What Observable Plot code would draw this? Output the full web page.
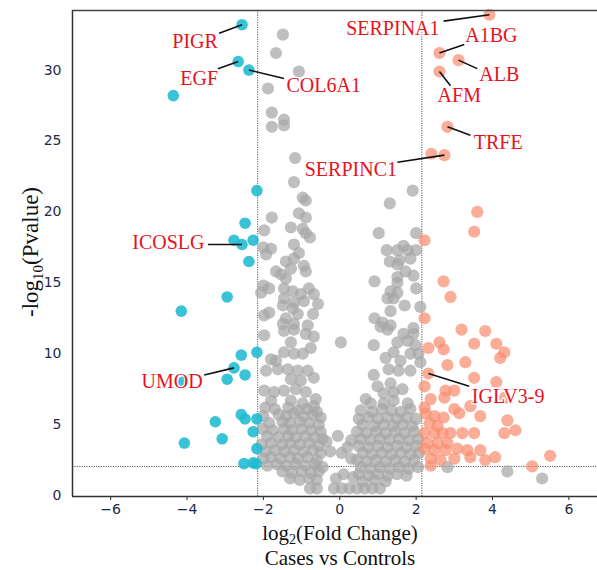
<!DOCTYPE html>
<html><head><meta charset="utf-8">
<script src="https://cdn.jsdelivr.net/npm/d3@7"></script>
<script src="https://cdn.jsdelivr.net/npm/@observablehq/plot@0.6"></script>
<style>body{margin:0;background:#fff}#chart{width:597px;height:570px}</style>
</head><body><div id="chart"></div>
<script>
// not significant proteins [log2FC, -log10 p]
const grayPoints = [
[-1.49,32.5],[-1.67,31.2],[-1.07,29.9],[-1.88,28.7],[-1.78,27.0],[-1.46,26.5],[-1.78,26.0],[-1.46,26.1],[-1.17,23.8],[-1.2,22.1],
[-0.97,21.0],[-0.89,20.8],[-1.78,19.6],[-1.07,19.9],[-0.89,19.6],[-1.98,18.7],[-1.28,18.9],[-0.97,18.8],[-0.89,18.5],[-0.78,18.2],
[-1.2,17.7],[-2.0,17.5],[-1.8,17.4],[-1.93,17.0],[-1.07,17.1],[-1.41,16.5],[-1.2,16.7],[-0.94,16.2],[-0.89,15.8],[-1.28,16.0],
[-1.67,15.8],[-1.54,15.6],[-1.41,15.3],[-2.0,14.8],[-1.85,14.6],[-1.46,14.6],[-1.23,14.4],[-1.02,14.2],[-0.81,14.6],[-2.06,14.3],
[-1.46,13.9],[-1.2,13.6],[-0.94,13.7],[-0.68,14.2],[-0.57,13.5],[-1.49,13.4],[-1.23,13.2],[-1.98,12.7],[-1.85,12.9],[-1.41,12.5],
[-1.1,12.8],[-0.7,12.8],[-1.49,12.1],[-1.2,12.1],[-0.84,12.0],
[-1.98,11.3],[-1.46,11.6],[-1.2,11.7],[-0.89,11.4],[-0.68,11.2],[-1.28,10.8],[-0.76,10.4],[0.03,10.8],[-1.46,10.1],[-1.2,10.0],
[-0.97,10.0],[-1.67,9.5],[-1.8,9.6],[-1.93,8.8],[-1.62,8.9],[-1.36,8.9],[-1.1,8.8],[-0.84,8.8],[-0.68,8.3],[-1.28,8.2],[-1.02,8.1],
[-1.98,7.4],[-1.72,7.3],[-1.46,7.4],[-1.15,7.5],[-0.89,7.3],[-0.63,6.8],[-1.28,6.7],[-0.97,6.5],[-0.68,6.3],[-1.8,6.7],
[1.91,21.5],[1.31,20.6],[1.02,18.5],[2.0,18.5],[1.23,17.3],[1.51,17.3],[1.67,17.6],[1.78,17.3],[2.0,17.3],[1.31,16.5],
[1.57,16.6],[1.85,16.7],[1.51,16.3],[1.72,15.8],[1.93,15.5],[1.51,15.4],[1.51,15.0],[0.91,15.1],[2.0,14.6],[1.33,14.4],
[1.51,14.3],[1.25,13.9],[1.41,13.9],[1.70,13.4],[2.11,13.3],[1.33,13.0],[0.91,12.5],[1.12,12.2],[1.33,12.0],[1.93,11.8],
[0.89,10.6],[1.07,11.9],[1.25,11.7],[1.67,11.4],[1.93,11.4],[1.51,10.8],[1.78,10.9],[1.98,10.6],[2.06,10.0],[1.41,10.1],
[1.2,9.7],[1.59,9.5],[1.85,10.0],[2.11,9.4],[1.28,8.9],[1.54,8.8],[0.89,8.5],[1.85,8.8],[0.99,7.7],[1.33,7.9],
[1.64,7.5],[1.15,7.2],[1.41,7.3],[0.68,6.8],[0.81,6.5],[1.15,6.5],[1.41,6.7],[1.78,6.5],
[-1.95,6.2],[-1.7,6.1],[-1.35,6.2],[-1.1,6.0],[-0.85,6.1],[-0.6,5.9],
[-2.0,5.6],[-1.6,5.7],[-1.4,5.6],[-1.2,5.8],[-0.95,5.6],[-0.7,5.7],[-0.5,5.5],
[-1.85,5.1],[-1.5,5.2],[-1.3,5.1],[-1.05,5.2],[-0.8,5.1],[-0.55,5.0],
[-2.02,4.7],[-1.75,4.6],[-1.45,4.7],[-1.25,4.6],[-1.0,4.7],[-0.75,4.6],[-0.5,4.5],
[-1.9,4.2],[-1.6,4.1],[-1.35,4.2],[-1.15,4.1],[-0.9,4.2],[-0.65,4.1],[-0.45,4.0],
[-2.05,3.6],[-1.8,3.7],[-1.5,3.6],[-1.3,3.7],[-1.05,3.6],[-0.8,3.7],[-0.55,3.5],
[-1.95,3.1],[-1.7,3.2],[-1.45,3.1],[-1.2,3.2],[-0.95,3.1],[-0.7,3.2],[-0.5,3.0],
[-2.0,2.6],[-1.8,2.7],[-1.55,2.6],[-1.3,2.7],[-1.1,2.6],[-0.85,2.7],[-0.6,2.5],
[-1.9,2.1],[-1.65,2.2],[-1.4,2.1],[-1.15,2.2],[-0.9,2.1],[-0.65,2.2],[-0.45,2.0],
[-1.5,1.7],[-1.25,1.6],[-1.0,1.7],[-0.75,1.6],[-0.55,1.7],
[-1.3,1.2],[-1.05,1.1],[-0.8,1.2],[-0.6,1.1],[-0.78,0.5],[-0.6,0.5],
[-0.35,3.8],[-0.05,4.2],[0.3,3.9],[-0.25,3.1],[0.05,3.0],[0.3,2.6],[0.1,1.5],[0.35,1.3],[-0.1,1.2],[0.2,3.4],
[0.55,6.0],[0.85,5.9],[1.1,6.1],[1.35,6.0],[1.6,5.9],[1.85,6.1],
[0.5,5.4],[0.75,5.5],[1.0,5.4],[1.25,5.5],[1.5,5.4],[1.75,5.5],[2.0,5.4],
[0.6,5.0],[0.9,4.9],[1.15,5.0],[1.4,4.9],[1.65,5.0],[1.9,4.9],
[0.45,4.5],[0.7,4.4],[0.95,4.5],[1.2,4.4],[1.45,4.5],[1.7,4.4],[1.95,4.5],
[0.55,4.0],[0.8,3.9],[1.05,4.0],[1.3,3.9],[1.55,4.0],[1.8,3.9],[2.05,4.0],
[0.5,3.5],[0.75,3.4],[1.0,3.5],[1.25,3.4],[1.5,3.5],[1.75,3.4],[2.0,3.5],
[0.6,3.0],[0.85,2.9],[1.1,3.0],[1.35,2.9],[1.6,3.0],[1.85,2.9],[2.08,3.0],
[0.45,2.5],[0.7,2.4],[0.95,2.5],[1.2,2.4],[1.45,2.5],[1.7,2.4],[1.95,2.5],
[0.55,2.0],[0.8,1.9],[1.05,2.0],[1.3,1.9],[1.55,2.0],[1.8,1.9],[2.05,2.0],
[0.5,1.5],[0.75,1.4],[1.0,1.5],[1.25,1.4],[1.5,1.5],[1.75,1.4],
[0.6,1.0],[0.9,1.1],[1.2,1.0],
[-0.15,0.5],[0.05,0.5],[0.25,0.5],[0.45,0.5],[0.65,0.5],[0.85,0.5],[1.05,0.5],
[2.82,2.0],[4.39,1.7],[5.3,1.2]
];
// down-regulated
const downPoints = [
[-2.56,33.2],[-2.66,30.6],[-2.38,30.0],[-4.36,28.2],[-2.17,21.5],[-2.48,19.2],[-2.77,18.0],[-2.56,17.7],[-2.27,18.0],[-2.38,16.5],
[-2.95,14.0],[-4.15,13.0],[-2.58,9.9],[-2.17,10.1],[-2.77,9.0],[-2.48,8.5],[-2.95,8.2],[-4.1,8.0],[-2.58,5.7],[-2.48,5.4],
[-2.17,5.4],[-3.26,5.2],[-2.27,4.5],[-3.08,4.0],[-4.07,3.7],[-2.17,3.3],[-2.51,2.25],[-2.27,2.3],[-2.19,2.25]
];
// up-regulated
const upPoints = [
[3.92,33.9],[2.61,31.2],[3.11,30.7],[2.61,29.9],[2.82,26.0],[2.40,24.1],[2.74,24.0],[3.60,20.0],[3.52,18.6],[2.22,18.0],
[2.72,15.1],[2.90,14.0],[2.22,12.5],[3.19,11.7],[3.81,11.6],[2.61,10.8],[3.52,10.7],[4.10,10.7],[2.32,10.4],[2.72,10.3],
[4.31,10.1],[4.20,9.7],[3.29,9.4],[2.82,9.2],[2.32,8.6],[3.52,8.3],[4.10,8.0],[2.22,7.7],[2.77,7.4],[3.0,7.4],
[2.38,6.8],[2.74,6.9],[4.33,6.9],[2.22,6.2],[3.42,6.3],[3.0,6.1],[2.25,5.8],[2.48,5.6],[2.72,5.5],[3.13,5.8],
[3.68,5.6],[4.39,5.3],[2.35,5.1],[2.56,4.9],[4.6,4.6],[2.22,4.4],[2.48,4.4],[2.69,4.4],[2.90,4.4],[3.21,4.4],
[3.52,4.4],[4.31,4.4],[2.30,3.7],[2.56,3.7],[2.82,3.7],[2.22,3.3],[2.48,3.2],[2.77,3.2],[3.08,3.3],[3.34,3.2],
[3.68,3.2],[4.07,2.7],[5.51,2.8],[2.38,2.6],[2.64,2.5],[3.0,2.6],[3.42,2.7],[3.81,2.5],[2.38,2.1],[5.04,2.05]
];
// labelled genes: name, point, label centre, leader start
const geneNames = ["PIGR","EGF","COL6A1","SERPINA1","A1BG","ALB","AFM","TRFE","SERPINC1","ICOSLG","UMOD","IGLV3-9"];
const genePoints = [[-2.56,33.2],[-2.66,30.6],[-2.38,30.0],[3.92,33.9],[2.61,31.2],[3.11,30.7],[2.61,29.9],[2.82,26.0],[2.74,24.0],[-2.56,17.7],[-2.77,9.0],[2.32,8.6]];
const geneLabelPos = [[-3.79,32.0],[-3.68,29.4],[-0.42,28.9],[1.39,32.9],[3.97,32.4],[4.18,29.7],[3.13,28.2],[4.15,24.9],[0.29,23.0],[-4.49,17.8],[-4.39,8.0],[4.41,7.0]];
const geneLeaderPos = [[-3.16,32.6],[-3.19,30.1],[-1.46,29.4],[2.72,33.45],[3.26,31.8],[3.60,30.1],[2.90,28.9],[3.42,25.4],[1.51,23.5],[-3.45,17.7],[-3.55,8.5],[3.39,7.7]];
const xTicks = [-6,-4,-2,0,2,4,6];
const yTicks = [0,5,10,15,20,25,30];
const fcCut = [-2.15, 2.15];
const pCut = [2.05];
const xDomain = [-7, 6.75];
const yDomain = [-0.07, 34.2];

const genes = geneNames.map((g,i)=>({g, px:genePoints[i][0], py:genePoints[i][1], lx:geneLabelPos[i][0], ly:geneLabelPos[i][1], ax:geneLeaderPos[i][0], ay:geneLeaderPos[i][1]}));

const tickColor = "#1e2a48";
const chart = Plot.plot({
  width: 597, height: 570,
  marginLeft: 72, marginRight: 0, marginTop: 10, marginBottom: 74,
  style: {fontFamily: "DejaVu Sans", fontSize: "14px", color: tickColor, background: "#fff"},
  x: {domain: xDomain, ticks: xTicks, tickSize: 4, tickPadding: 4, label: null, tickFormat: d3.format("")},
  y: {domain: yDomain, ticks: yTicks, tickSize: 0, tickPadding: 11, label: null},
  marks: [
    Plot.ruleX(fcCut, {stroke: "#444", strokeWidth: 0.9, strokeDasharray: "1.2,1.2"}),
    Plot.ruleY(pCut, {stroke: "#444", strokeWidth: 0.9, strokeDasharray: "1.2,1.2"}),
    Plot.dot(grayPoints, {x: d=>d[0], y: d=>d[1], r: 6.1, fill: "#a6a6a6", fillOpacity: 0.72, stroke: "none"}),
    Plot.dot(downPoints, {x: d=>d[0], y: d=>d[1], r: 5.8, fill: "#1fb9d2", fillOpacity: 0.88, stroke: "none"}),
    Plot.dot(upPoints, {x: d=>d[0], y: d=>d[1], r: 6.1, fill: "#fa8e70", fillOpacity: 0.72, stroke: "none"}),
    Plot.link(genes, {x1: "ax", y1: "ay", x2: "px", y2: "py", stroke: "#111", strokeWidth: 1.6}),
    Plot.text(genes, {x: "lx", y: "ly", text: "g", fill: "#e8121d", fontSize: 20, fontFamily: "Liberation Serif", stroke: "white", strokeWidth: 3, strokeOpacity: 0.85}),
    Plot.ruleX([xDomain[0]], {stroke: "#333", strokeWidth: 1.5}),
    Plot.ruleY([yDomain[0]], {stroke: "#333", strokeWidth: 1.5}),
    Plot.ruleY([yDomain[1]], {stroke: "#444", strokeWidth: 1.3})
  ]
});
document.getElementById("chart").appendChild(chart);
const svg = d3.select(chart.tagName.toLowerCase()==="svg" ? chart : chart.querySelector("svg"));
const serif = "Liberation Serif";
const yl = svg.append("text").attr("transform","translate(38,252) rotate(-90)").attr("text-anchor","middle")
  .attr("font-family",serif).attr("font-size",23).attr("fill","#111");
yl.append("tspan").text("-log");
yl.append("tspan").attr("font-size",15).attr("dy",5).text("10");
yl.append("tspan").attr("dy",-5).text("(Pvalue)");
const xl = svg.append("text").attr("x",340).attr("y",540).attr("text-anchor","middle")
  .attr("font-family",serif).attr("font-size",21).attr("fill","#111");
xl.append("tspan").text("log");
xl.append("tspan").attr("font-size",14).attr("dy",4).text("2");
xl.append("tspan").attr("dy",-4).text("(Fold Change)");
svg.append("text").attr("x",340).attr("y",565).attr("text-anchor","middle")
  .attr("font-family",serif).attr("font-size",21).attr("fill","#111").text("Cases vs Controls");
</script>
</body></html>
